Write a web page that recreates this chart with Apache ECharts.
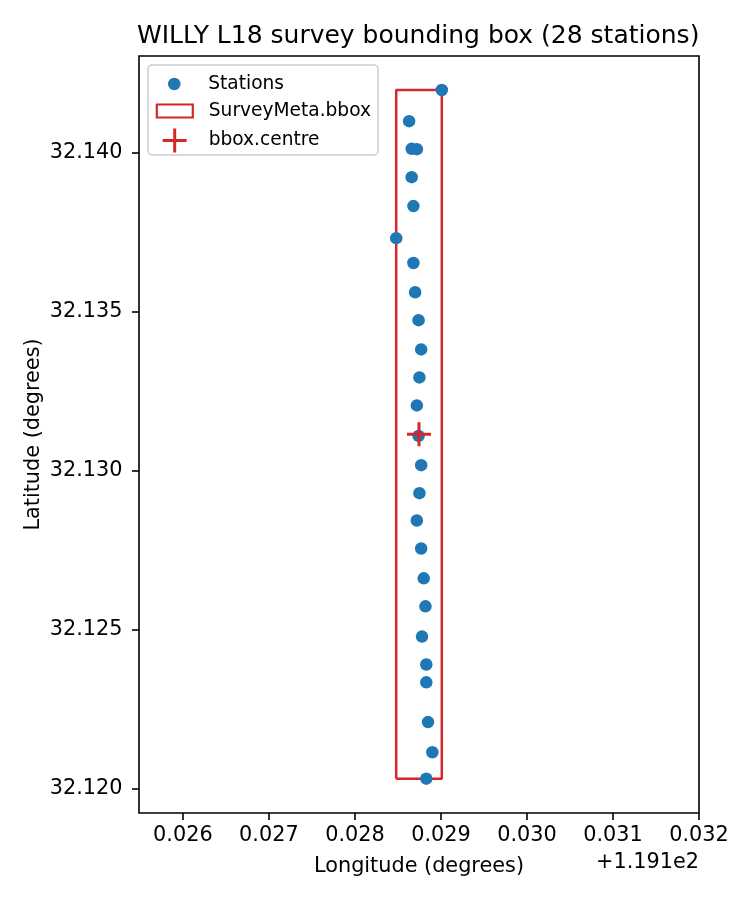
<!DOCTYPE html>
<html>
<head>
<meta charset="utf-8">
<script src="https://cdn.jsdelivr.net/npm/echarts@6/dist/echarts.min.js"></script>
<style>
  html, body { margin: 0; padding: 0; background: #fff; }
  #chart { width: 750px; height: 900px; }
</style>
</head>
<body>
<div id="chart"></div>
<script>
// longitude is shown as offset from 119.1 (matplotlib "+1.191e2")
const LON_OFFSET = 119.1;
const stationLon = [
  0.02901, 0.02863, 0.02866, 0.02872, 0.02866, 0.02868, 0.02848,
  0.02868, 0.02870, 0.02874, 0.02877, 0.02875, 0.02872, 0.02874,
  0.02877, 0.02875, 0.02872, 0.02877, 0.02880, 0.02882, 0.02878,
  0.02883, 0.02883, 0.02885, 0.02890, 0.02883
];
const stationLat = [
  32.14197, 32.14099, 32.14012, 32.14011, 32.13923, 32.13832, 32.13731,
  32.13653, 32.13561, 32.13473, 32.13381, 32.13293, 32.13205, 32.13109,
  32.13017, 32.12929, 32.12843, 32.12755, 32.12661, 32.12573, 32.12478,
  32.12390, 32.12334, 32.12209, 32.12114, 32.12031
];
const xTicks = [0.026, 0.027, 0.028, 0.029, 0.030, 0.031, 0.032];
const yTicks = [32.120, 32.125, 32.130, 32.135, 32.140];

const BLUE = '#1f77b4';
const RED = '#d62728';
const FONT = 'DejaVu Sans';
const PLUS = 'path://M0,10.5H24V13.5H0Z M10.5,0H13.5V24H10.5Z';
const BOX = 'path://M0,0H36V13H0Z';

// bbox + centre from stations
const lonMin = Math.min(...stationLon), lonMax = Math.max(...stationLon);
const latMin = Math.min(...stationLat), latMax = Math.max(...stationLat);
const bboxPath = [
  [lonMin, latMin], [lonMax, latMin], [lonMax, latMax], [lonMin, latMax], [lonMin, latMin]
];
const centre = [(lonMin + lonMax) / 2, (latMin + latMax) / 2];

const stations = stationLon.map((x, i) => [x, stationLat[i]]);

const chart = echarts.init(document.getElementById('chart'));

const legendText = { fontFamily: FONT, fontSize: 18.6, color: '#000' };

// legend layout aligns by the drawn icon box, so each legend's left is the icon's left edge
chart.setOption({
  backgroundColor: '#fff',
  animation: false,
  title: {
    text: 'WILLY L18 survey bounding box (28 stations)',
    left: 137,
    top: 24,
    padding: 0,
    textStyle: { fontFamily: FONT, fontSize: 25, fontWeight: 'normal', color: '#000' }
  },
  grid: {
    left: 139, right: 51, top: 56, bottom: 87,
    show: true, borderColor: '#000', borderWidth: 1.6, backgroundColor: 'transparent'
  },
  xAxis: {
    type: 'value',
    min: 0.02549, max: 0.032,
    name: 'Longitude (degrees)',
    nameLocation: 'middle',
    nameGap: 43,
    nameTextStyle: { fontFamily: FONT, fontSize: 20.8, color: '#000' },
    axisLine: { show: false },
    axisTick: { show: true, length: 7, customValues: xTicks, lineStyle: { color: '#000', width: 1.6 } },
    axisLabel: {
      customValues: xTicks, margin: 12,
      fontFamily: FONT, fontSize: 20.8, color: '#000',
      formatter: v => v.toFixed(3)
    },
    splitLine: { show: false }
  },
  yAxis: {
    type: 'value',
    min: 32.11923, max: 32.14304,
    name: 'Latitude (degrees)',
    nameLocation: 'middle',
    nameGap: 95,
    nameMoveOverlap: false,
    nameTextStyle: { fontFamily: FONT, fontSize: 20.8, color: '#000' },
    axisLine: { show: false },
    axisTick: { show: true, length: 7, customValues: yTicks, lineStyle: { color: '#000', width: 1.6 } },
    axisLabel: {
      customValues: yTicks, margin: 16.5,
      fontFamily: FONT, fontSize: 20.8, color: '#000',
      formatter: v => v.toFixed(3)
    },
    splitLine: { show: false }
  },
  legend: [
    {
      data: [{ name: 'Stations', icon: 'circle' }],
      left: 168, top: 74.5, padding: 0, selectedMode: false,
      itemWidth: 58, itemHeight: 12.5,
      textStyle: legendText
    },
    {
      data: [{
        name: 'SurveyMeta.bbox', icon: BOX,
        itemStyle: { color: 'rgba(255,255,255,0)', borderColor: RED, borderWidth: 2.2 }
      }],
      left: 155.7, top: 101.5, padding: 0, selectedMode: false,
      itemWidth: 58, itemHeight: 13,
      textStyle: legendText
    },
    {
      data: [{ name: 'bbox.centre', icon: PLUS }],
      left: 162.7, top: 128.5, padding: 0, selectedMode: false,
      itemWidth: 58, itemHeight: 24,
      textStyle: legendText
    }
  ],
  graphic: [
    {
      type: 'rect', z: 3,
      shape: { x: 148, y: 65, width: 230, height: 90, r: 4 },
      style: { fill: 'rgba(255,255,255,0.8)', stroke: '#cccccc', lineWidth: 1.5 }
    },
    {
      type: 'text', right: 51, top: 852,
      style: { text: '+' + (LON_OFFSET / 100).toFixed(3) + 'e2', fontFamily: FONT, fontSize: 20.8, fill: '#000' }
    }
  ],
  series: [
    {
      name: 'SurveyMeta.bbox',
      type: 'line',
      data: bboxPath,
      showSymbol: false,
      symbol: 'none',
      lineStyle: { color: RED, width: 2.5 },
      itemStyle: { color: RED },
      z: 2
    },
    {
      name: 'Stations',
      type: 'scatter',
      data: stations,
      symbolSize: 12.5,
      itemStyle: { color: BLUE, opacity: 1 },
      z: 3
    },
    {
      name: 'bbox.centre',
      type: 'scatter',
      data: [centre],
      symbol: PLUS,
      symbolSize: 24,
      itemStyle: { color: RED, opacity: 1 },
      z: 4
    }
  ]
});
</script>
</body>
</html>
